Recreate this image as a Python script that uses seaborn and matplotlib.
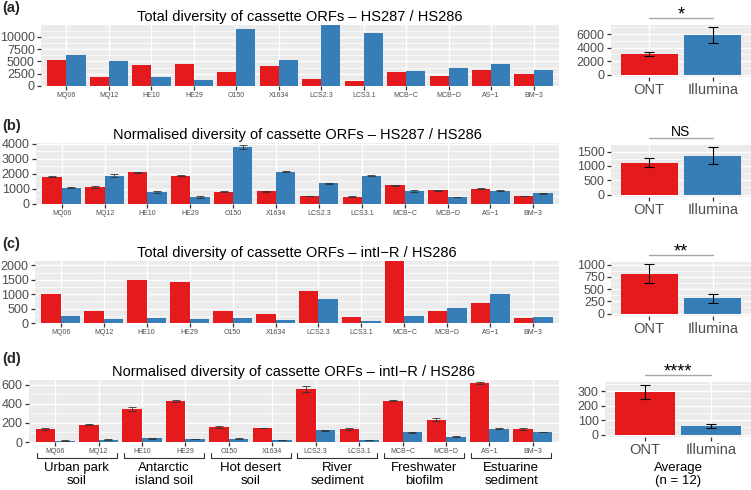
import numpy as np
import pandas as pd
import matplotlib.pyplot as plt
from matplotlib.ticker import FixedLocator, MultipleLocator, NullLocator
import seaborn as sns

# sample names and habitat groups (pairs of samples)
samples = ['MQ06', 'MQ12', 'HE10', 'HE29', 'O150', 'X1634', 'LCS2.3', 'LCS3.1',
           'MCB\u2212C', 'MCB\u2212D', 'AS\u22121', 'BM\u22123']
habitats = ['Urban park\nsoil', 'Antarctic\nisland soil', 'Hot desert\nsoil',
            'River\nsediment', 'Freshwater\nbiofilm', 'Estuarine\nsediment']
platforms = ['ONT', 'Illumina']

# (a) total diversity HS287 / HS286
a_ont = [5200, 1900, 4200, 4400, 2900, 4000, 1500, 1000, 2800, 2100, 3300, 2500]
a_ill = [6300, 5100, 1900, 1300, 11500, 5200, 12400, 10800, 3100, 3700, 4500, 3300]
# (b) normalised diversity HS287 / HS286
b_ont = [1820, 1110, 2090, 1870, 820, 845, 530, 470, 1230, 920, 1000, 530]
b_ont_err = [30, 60, 40, 40, 30, 30, 30, 30, 20, 40, 30, 30]
b_ill = [1070, 1890, 800, 470, 3780, 2130, 1380, 1890, 850, 460, 880, 700]
b_ill_err = [30, 70, 50, 40, 110, 40, 30, 60, 50, 20, 20, 20]
# (c) total diversity intI-R / HS286
c_ont = [1010, 410, 1480, 1435, 420, 305, 1115, 200, 2150, 420, 705, 175]
c_ill = [235, 130, 190, 130, 165, 95, 820, 70, 235, 530, 1010, 210]
# (d) normalised diversity intI-R / HS286
d_ont = [136, 180, 345, 427, 154, 147, 556, 136, 435, 233, 617, 136]
d_ont_err = [10, 4, 22, 12, 10, 5, 35, 8, 10, 15, 8, 8]
d_ill = [14, 25, 40, 32, 36, 22, 122, 22, 100, 57, 140, 104]
d_ill_err = [3, 3, 4, 4, 3, 2, 3, 2, 3, 3, 3, 3]

# averages (n = 12), mean and standard error, per panel
avg_ont = [3050, 1110, 818, 295]
avg_ont_err = [350, 165, 185, 52]
avg_ill = [5850, 1360, 316, 60]
avg_ill_err = [1130, 285, 92, 15]

titles = ['Total diversity of cassette ORFs \u2013 HS287 / HS286',
          'Normalised diversity of cassette ORFs \u2013 HS287 / HS286',
          'Total diversity of cassette ORFs \u2013 intI\u2212R / HS286',
          'Normalised diversity of cassette ORFs \u2013 intI\u2212R / HS286']
letters = ['(a)', '(b)', '(c)', '(d)']
signif = ['*', 'NS', '**', '****']
left_ticks = [[0, 2500, 5000, 7500, 10000], [0, 1000, 2000, 3000, 4000],
              [0, 500, 1000, 1500, 2000], [0, 200, 400, 600]]
right_ticks = [[0, 2000, 4000, 6000], [0, 500, 1000, 1500],
               [0, 250, 500, 750, 1000], [0, 100, 200, 300]]

left_ont = [a_ont, b_ont, c_ont, d_ont]
left_ill = [a_ill, b_ill, c_ill, d_ill]
left_ont_err = [None, b_ont_err, None, d_ont_err]
left_ill_err = [None, b_ill_err, None, d_ill_err]

RED = '#E41A1C'
BLUE = '#377EB8'
W, H = 751, 490

sns.set_theme(style='white')
plt.rcParams['font.family'] = ['Liberation Sans', 'DejaVu Sans']

fig = plt.figure(figsize=(W / 100, H / 100), dpi=100)


def px_box(b):
    x0, y0, x1, y1 = b
    return [x0 / W, 1 - y1 / H, (x1 - x0) / W, (y1 - y0) / H]


left_boxes = [(41, 25, 559, 86), (36, 143, 559, 204), (35, 261, 559, 323), (29, 380, 559, 442)]
right_boxes = [(611, 25, 751, 77), (611, 145, 751, 197), (611, 262, 751, 316), (605, 382, 751, 437)]
letter_y = [8, 126, 244, 359]


def style(ax, ticks, xsize):
    ax.set_facecolor('#EBEBEB')
    for s in ax.spines.values():
        s.set_visible(False)
    ax.yaxis.set_major_locator(FixedLocator(ticks))
    ax.yaxis.set_minor_locator(MultipleLocator((ticks[1] - ticks[0]) / 2))
    ax.xaxis.set_minor_locator(NullLocator())
    ax.grid(which='major', color='white', lw=1.0)
    ax.grid(which='minor', axis='y', color='white', lw=0.5)
    ax.set_axisbelow(True)
    ax.tick_params(which='major', length=3, width=0.9, color='#333333',
                   labelcolor='#4D4D4D', pad=1.5, bottom=True, left=True)
    ax.tick_params(which='minor', length=0)
    ax.tick_params(axis='y', labelsize=9)
    ax.tick_params(axis='x', labelsize=xsize)
    ax.set_xlabel('')
    ax.set_ylabel('')


for i in range(4):
    # left panel: per-sample bars
    ax = fig.add_axes(px_box(left_boxes[i]))
    df = pd.DataFrame({'sample': samples * 2,
                       'platform': ['ONT'] * 12 + ['Illumina'] * 12,
                       'value': left_ont[i] + left_ill[i]})
    sns.barplot(data=df, x='sample', y='value', hue='platform', hue_order=platforms,
                palette=[RED, BLUE], width=0.9, gap=0, saturation=1, errorbar=None,
                legend=False, linewidth=0, edgecolor='none', ax=ax)
    pos = np.arange(len(samples))
    top = max(left_ill[i] + left_ont[i])
    if left_ont_err[i] is not None:
        ax.errorbar(pos - 0.225, left_ont[i], yerr=left_ont_err[i], fmt='none',
                    ecolor='#333333', elinewidth=0.6, capsize=3, capthick=0.6)
        ax.errorbar(pos + 0.225, left_ill[i], yerr=left_ill_err[i], fmt='none',
                    ecolor='#333333', elinewidth=0.6, capsize=3, capthick=0.6)
        top = max(np.add(left_ont[i], left_ont_err[i]).max(),
                  np.add(left_ill[i], left_ill_err[i]).max()) * 1.04
    ax.set_xlim(-0.6, len(samples) - 0.4)
    ax.set_ylim(0, top)
    style(ax, left_ticks[i], 5)
    ax.set_title(titles[i], fontsize=10.5, pad=3, color='black')

    if i == 3:
        # habitat brackets under the sample labels
        h = left_boxes[i][3] - left_boxes[i][1]
        tr = ax.get_xaxis_transform()
        for k, hab in enumerate(habitats):
            x0 = 2 * k - 0.42
            x1 = 2 * k + 1 + 0.42
            yb = -16 / h
            yt = -11 / h
            ax.plot([x0, x0, x1, x1], [yt, yb, yb, yt], transform=tr, clip_on=False,
                    color='#333333', lw=0.8)
            ax.text(2 * k + 0.5, -20 / h, hab, transform=tr, ha='center', va='top',
                    fontsize=9.5, color='black', linespacing=1.15)

    # right panel: averages
    axr = fig.add_axes(px_box(right_boxes[i]))
    sns.barplot(x=platforms, y=[avg_ont[i], avg_ill[i]], hue=platforms,
                palette=[RED, BLUE], width=0.9, saturation=1, errorbar=None,
                legend=False, linewidth=0, edgecolor='none', ax=axr)
    axr.errorbar([0, 1], [avg_ont[i], avg_ill[i]], yerr=[avg_ont_err[i], avg_ill_err[i]],
                 fmt='none', ecolor='black', elinewidth=0.8, capsize=3.5, capthick=0.8)
    t = max(avg_ont[i] + avg_ont_err[i], avg_ill[i] + avg_ill_err[i])
    axr.set_xlim(-0.6, 1.6)
    axr.set_ylim(-0.05 * t, 1.05 * t)
    style(axr, right_ticks[i], 10.5)

    hr = right_boxes[i][3] - right_boxes[i][1]
    trr = axr.get_xaxis_transform()
    axr.plot([0, 1], [1 + 7 / hr, 1 + 7 / hr], transform=trr, clip_on=False,
             color='#A6A6A6', lw=1.0)
    star = signif[i].startswith('*')
    axr.text(0.5, 1 + (6 if star else 9) / hr, signif[i], transform=trr, ha='center',
             va='baseline', fontsize=13 if star else 10, color='black')
    if i == 3:
        axr.text(0.5, -25 / hr, 'Average\n(n = 12)', transform=trr, ha='center',
                 va='top', fontsize=9.5, color='black', linespacing=1.15)

    fig.text(2 / W, 1 - letter_y[i] / H, letters[i], fontsize=10.5, fontweight='bold',
             ha='left', va='center')

fig.savefig('out.png', dpi=100)
